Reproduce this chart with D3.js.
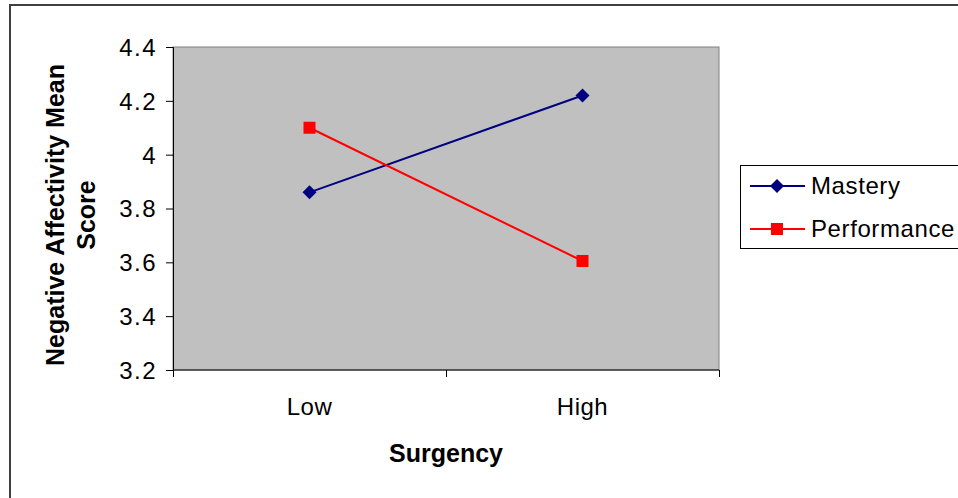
<!DOCTYPE html>
<html>
<head>
<meta charset="utf-8">
<script src="https://cdn.jsdelivr.net/npm/d3@7"></script>
<style>
  html, body { margin: 0; padding: 0; background: #ffffff; }
  svg { display: block; }
  text { font-family: "Liberation Sans", Arial, sans-serif; fill: #000; }
</style>
</head>
<body>
<svg id="chart" width="958" height="498"></svg>
<script>
// Data
const categories = ["Low", "High"];
const seriesNames = ["Mastery", "Performance"];
const masteryValues = [3.86, 4.22];
const performanceValues = [4.10, 3.605];
const yTicks = [3.2, 3.4, 3.6, 3.8, 4.0, 4.2, 4.4];
const xTitle = "Surgency";
const yTitleLines = ["Negative Affectivity Mean", "Score"];

const series = [
  { name: seriesNames[0], values: masteryValues, color: "#000080", marker: "diamond" },
  { name: seriesNames[1], values: performanceValues, color: "#ff0000", marker: "square" }
];

const svg = d3.select("#chart");
const W = 958, H = 498;
const plot = { left: 173, right: 719, top: 47, bottom: 370 };
const labelFont = 24;

// Outer chart frame
svg.append("rect")
  .attr("x", 10).attr("y", 5)
  .attr("width", W + 10).attr("height", H + 10)
  .attr("fill", "#fff").attr("stroke", "#404040").attr("stroke-width", 2);

const x = d3.scaleBand().domain(categories).range([plot.left, plot.right]).padding(0);
const y = d3.scaleLinear().domain([3.2, 4.4]).range([plot.bottom, plot.top]);

// Plot area
svg.append("rect")
  .attr("x", plot.left).attr("y", plot.top)
  .attr("width", plot.right - plot.left).attr("height", plot.bottom - plot.top)
  .attr("fill", "#c0c0c0").attr("stroke", "#808080").attr("stroke-width", 1);

// Y axis
const yAxis = svg.append("g")
  .attr("transform", `translate(${plot.left},0)`)
  .call(d3.axisLeft(y).tickValues(yTicks).tickSize(7).tickPadding(9)
    .tickFormat(d => d3.format("")(+d.toFixed(1))));
yAxis.select(".domain").attr("stroke", "#000");
yAxis.selectAll(".tick line").attr("stroke", "#000");
yAxis.selectAll(".tick text")
  .attr("font-size", labelFont)
  .attr("letter-spacing", "1.5px")
  .attr("font-family", "Liberation Sans, Arial, sans-serif")
  .attr("dy", "0.35em");

// X axis with ticks at band boundaries
const xAxis = svg.append("g")
  .attr("transform", `translate(0,${plot.bottom})`);
xAxis.append("line")
  .attr("x1", plot.left).attr("x2", plot.right)
  .attr("stroke", "#000");
const boundaries = categories.map(c => x(c)).concat([x(categories[categories.length - 1]) + x.bandwidth()]);
xAxis.selectAll("line.tk").data(boundaries).enter().append("line")
  .attr("class", "tk")
  .attr("x1", d => Math.round(d) + 0.5).attr("x2", d => Math.round(d) + 0.5)
  .attr("y1", 0).attr("y2", 7).attr("stroke", "#000");
xAxis.selectAll("text").data(categories).enter().append("text")
  .attr("x", d => x(d) + x.bandwidth() / 2)
  .attr("y", 45)
  .attr("text-anchor", "middle")
  .attr("font-size", labelFont)
  .attr("letter-spacing", "0.5px")
  .text(d => d);

// Axis titles
svg.append("text")
  .attr("x", (plot.left + plot.right) / 2).attr("y", 462)
  .attr("text-anchor", "middle").attr("font-size", 25).attr("font-weight", "bold")
  .text(xTitle);

const yt = svg.append("text")
  .attr("transform", `translate(64,215) rotate(-90)`)
  .attr("text-anchor", "middle").attr("font-size", 25).attr("font-weight", "bold");
yTitleLines.forEach((t, i) => {
  yt.append("tspan").attr("x", 0).attr("dy", i === 0 ? 0 : 31).text(t);
});

// Markers
function drawMarker(g, type, cx, cy, color) {
  if (type === "diamond") {
    const r = 7;
    g.append("path")
      .attr("d", `M${cx},${cy - r}L${cx + r},${cy}L${cx},${cy + r}L${cx - r},${cy}Z`)
      .attr("fill", color);
  } else {
    const s = 12;
    g.append("rect")
      .attr("x", cx - s / 2).attr("y", cy - s / 2)
      .attr("width", s).attr("height", s)
      .attr("fill", color);
  }
}

const line = d3.line()
  .x((d, i) => x(categories[i]) + x.bandwidth() / 2)
  .y(d => y(d));

series.forEach(s => {
  const g = svg.append("g");
  g.append("path")
    .attr("d", line(s.values))
    .attr("fill", "none").attr("stroke", s.color).attr("stroke-width", 2);
  s.values.forEach((v, i) => {
    drawMarker(g, s.marker, x(categories[i]) + x.bandwidth() / 2, y(v), s.color);
  });
});

// Legend
const legend = svg.append("g");
legend.append("rect")
  .attr("x", 740.5).attr("y", 165.5)
  .attr("width", 240).attr("height", 83)
  .attr("fill", "#fff").attr("stroke", "#000").attr("stroke-width", 1);
series.forEach((s, i) => {
  const cy = 186 + i * 43;
  legend.append("line")
    .attr("x1", 750).attr("x2", 805).attr("y1", cy).attr("y2", cy)
    .attr("stroke", s.color).attr("stroke-width", 2);
  drawMarker(legend, s.marker, 777, cy, s.color);
  legend.append("text")
    .attr("x", 811).attr("y", cy + 8)
    .attr("font-size", labelFont)
    .attr("letter-spacing", "0.6px")
    .text(s.name);
});
</script>
</body>
</html>
